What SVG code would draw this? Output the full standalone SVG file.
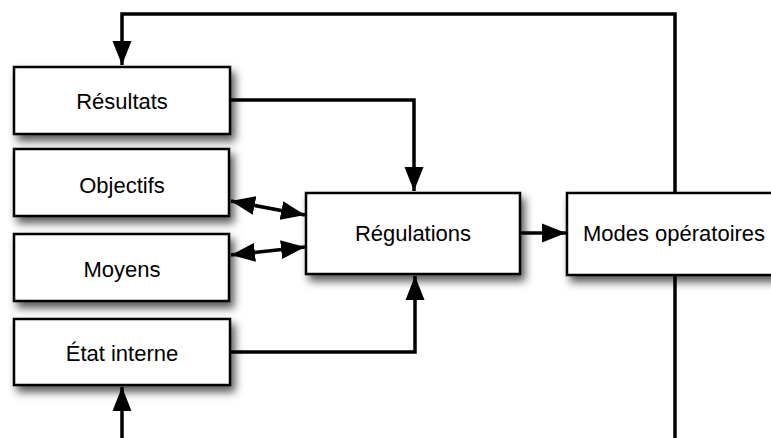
<svg xmlns="http://www.w3.org/2000/svg" width="771" height="438" viewBox="0 0 771 438">
<style>
.box{fill:#fff;stroke:#000;stroke-width:2.5;filter:url(#sh)}
.lbl{font-family:"Liberation Sans",Arial,sans-serif;font-size:22px;fill:#000;text-anchor:middle}
.c{fill:none;stroke:#000;stroke-width:3.5}
</style>
<defs>
<filter id="sh" x="-20%" y="-30%" width="150%" height="170%">
<feDropShadow dx="4" dy="6" stdDeviation="4" flood-color="#000" flood-opacity="0.65"/>
</filter>
<marker id="ah" markerUnits="userSpaceOnUse" markerWidth="25" markerHeight="21" refX="24" refY="9.5" orient="auto-start-reverse" viewBox="0 0 25 19">
<path d="M0,0 L24,9.5 L0,19 Z" fill="#000"/>
</marker>
</defs>
<g id="resultats"><rect class="box" x="14" y="67" width="216" height="67"/><text class="lbl" x="122" y="109">Résultats</text></g>
<g id="objectifs"><rect class="box" x="14" y="149" width="215" height="67"/><text class="lbl" x="122" y="193">Objectifs</text></g>
<g id="moyens"><rect class="box" x="14" y="234" width="215" height="67"/><text class="lbl" x="122" y="277">Moyens</text></g>
<g id="etat"><rect class="box" x="14" y="319" width="216" height="66"/><text class="lbl" x="122" y="361">État interne</text></g>
<g id="regulations"><rect class="box" x="306" y="193" width="214" height="81"/><text class="lbl" x="413" y="241">Régulations</text></g>
<g id="modes"><rect class="box" x="567" y="193" width="216" height="82"/><text class="lbl" x="674" y="241">Modes opératoires</text></g>
<g id="connectors">
<path class="c" d="M675,193 V14 H122 V65" marker-end="url(#ah)"/>
<path class="c" d="M230,100 H414 V191" marker-end="url(#ah)"/>
<path class="c" d="M231,201 L305,215" marker-start="url(#ah)" marker-end="url(#ah)"/>
<path class="c" d="M231,255 L305,247" marker-start="url(#ah)" marker-end="url(#ah)"/>
<path class="c" d="M230,352 H415 V276" marker-end="url(#ah)"/>
<path class="c" d="M122,438 V387" marker-end="url(#ah)"/>
<path class="c" d="M675,275 V438"/>
<path class="c" d="M520,233 H566" marker-end="url(#ah)"/>
</g>
</svg>
